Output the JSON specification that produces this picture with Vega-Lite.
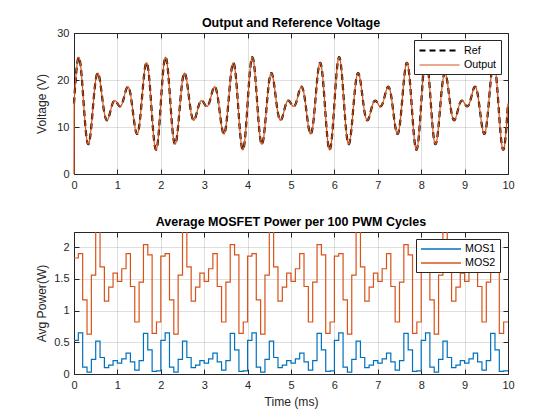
{
  "$schema": "https://vega.github.io/schema/vega-lite/v6.json",
  "background": "white",
  "padding": {"left": 35, "top": 16, "right": 10, "bottom": 8},
  "datasets": {
    "volt": [
      {"t":0,"v":15},{"t":0.05,"v":21.47},{"t":0.1,"v":24.76},{"t":0.15,"v":23.29},{"t":0.2,"v":17.94},{"t":0.25,"v":11.46},{"t":0.3,"v":7.06},{"t":0.35,"v":6.71},{"t":0.4,"v":10.24},{"t":0.45,"v":15.6},
      {"t":0.5,"v":20},{"t":0.55,"v":21.47},{"t":0.6,"v":19.76},{"t":0.65,"v":16.22},{"t":0.7,"v":12.94},{"t":0.75,"v":11.46},{"t":0.8,"v":12.06},{"t":0.85,"v":13.78},{"t":0.9,"v":15.24},{"t":0.95,"v":15.6},
      {"t":1,"v":15},{"t":1.05,"v":14.4},{"t":1.1,"v":14.76},{"t":1.15,"v":16.22},{"t":1.2,"v":17.94},{"t":1.25,"v":18.54},{"t":1.3,"v":17.06},{"t":1.35,"v":13.78},{"t":1.4,"v":10.24},{"t":1.45,"v":8.53},
      {"t":1.5,"v":10},{"t":1.55,"v":14.4},{"t":1.6,"v":19.76},{"t":1.65,"v":23.29},{"t":1.7,"v":22.94},{"t":1.75,"v":18.54},{"t":1.8,"v":12.06},{"t":1.85,"v":6.71},{"t":1.9,"v":5.24},{"t":1.95,"v":8.53},
      {"t":2,"v":15},{"t":2.05,"v":21.47},{"t":2.1,"v":24.76},{"t":2.15,"v":23.29},{"t":2.2,"v":17.94},{"t":2.25,"v":11.46},{"t":2.3,"v":7.06},{"t":2.35,"v":6.71},{"t":2.4,"v":10.24},{"t":2.45,"v":15.6},
      {"t":2.5,"v":20},{"t":2.55,"v":21.47},{"t":2.6,"v":19.76},{"t":2.65,"v":16.22},{"t":2.7,"v":12.94},{"t":2.75,"v":11.46},{"t":2.8,"v":12.06},{"t":2.85,"v":13.78},{"t":2.9,"v":15.24},{"t":2.95,"v":15.6},
      {"t":3,"v":15},{"t":3.05,"v":14.4},{"t":3.1,"v":14.76},{"t":3.15,"v":16.22},{"t":3.2,"v":17.94},{"t":3.25,"v":18.54},{"t":3.3,"v":17.06},{"t":3.35,"v":13.78},{"t":3.4,"v":10.24},{"t":3.45,"v":8.53},
      {"t":3.5,"v":10},{"t":3.55,"v":14.4},{"t":3.6,"v":19.76},{"t":3.65,"v":23.29},{"t":3.7,"v":22.94},{"t":3.75,"v":18.54},{"t":3.8,"v":12.06},{"t":3.85,"v":6.71},{"t":3.9,"v":5.24},{"t":3.95,"v":8.53},
      {"t":4,"v":15},{"t":4.05,"v":21.47},{"t":4.1,"v":24.76},{"t":4.15,"v":23.29},{"t":4.2,"v":17.94},{"t":4.25,"v":11.46},{"t":4.3,"v":7.06},{"t":4.35,"v":6.71},{"t":4.4,"v":10.24},{"t":4.45,"v":15.6},
      {"t":4.5,"v":20},{"t":4.55,"v":21.47},{"t":4.6,"v":19.76},{"t":4.65,"v":16.22},{"t":4.7,"v":12.94},{"t":4.75,"v":11.46},{"t":4.8,"v":12.06},{"t":4.85,"v":13.78},{"t":4.9,"v":15.24},{"t":4.95,"v":15.6},
      {"t":5,"v":15},{"t":5.05,"v":14.4},{"t":5.1,"v":14.76},{"t":5.15,"v":16.22},{"t":5.2,"v":17.94},{"t":5.25,"v":18.54},{"t":5.3,"v":17.06},{"t":5.35,"v":13.78},{"t":5.4,"v":10.24},{"t":5.45,"v":8.53},
      {"t":5.5,"v":10},{"t":5.55,"v":14.4},{"t":5.6,"v":19.76},{"t":5.65,"v":23.29},{"t":5.7,"v":22.94},{"t":5.75,"v":18.54},{"t":5.8,"v":12.06},{"t":5.85,"v":6.71},{"t":5.9,"v":5.24},{"t":5.95,"v":8.53},
      {"t":6,"v":15},{"t":6.05,"v":21.47},{"t":6.1,"v":24.76},{"t":6.15,"v":23.29},{"t":6.2,"v":17.94},{"t":6.25,"v":11.46},{"t":6.3,"v":7.06},{"t":6.35,"v":6.71},{"t":6.4,"v":10.24},{"t":6.45,"v":15.6},
      {"t":6.5,"v":20},{"t":6.55,"v":21.47},{"t":6.6,"v":19.76},{"t":6.65,"v":16.22},{"t":6.7,"v":12.94},{"t":6.75,"v":11.46},{"t":6.8,"v":12.06},{"t":6.85,"v":13.78},{"t":6.9,"v":15.24},{"t":6.95,"v":15.6},
      {"t":7,"v":15},{"t":7.05,"v":14.4},{"t":7.1,"v":14.76},{"t":7.15,"v":16.22},{"t":7.2,"v":17.94},{"t":7.25,"v":18.54},{"t":7.3,"v":17.06},{"t":7.35,"v":13.78},{"t":7.4,"v":10.24},{"t":7.45,"v":8.53},
      {"t":7.5,"v":10},{"t":7.55,"v":14.4},{"t":7.6,"v":19.76},{"t":7.65,"v":23.29},{"t":7.7,"v":22.94},{"t":7.75,"v":18.54},{"t":7.8,"v":12.06},{"t":7.85,"v":6.71},{"t":7.9,"v":5.24},{"t":7.95,"v":8.53},
      {"t":8,"v":15},{"t":8.05,"v":21.47},{"t":8.1,"v":24.76},{"t":8.15,"v":23.29},{"t":8.2,"v":17.94},{"t":8.25,"v":11.46},{"t":8.3,"v":7.06},{"t":8.35,"v":6.71},{"t":8.4,"v":10.24},{"t":8.45,"v":15.6},
      {"t":8.5,"v":20},{"t":8.55,"v":21.47},{"t":8.6,"v":19.76},{"t":8.65,"v":16.22},{"t":8.7,"v":12.94},{"t":8.75,"v":11.46},{"t":8.8,"v":12.06},{"t":8.85,"v":13.78},{"t":8.9,"v":15.24},{"t":8.95,"v":15.6},
      {"t":9,"v":15},{"t":9.05,"v":14.4},{"t":9.1,"v":14.76},{"t":9.15,"v":16.22},{"t":9.2,"v":17.94},{"t":9.25,"v":18.54},{"t":9.3,"v":17.06},{"t":9.35,"v":13.78},{"t":9.4,"v":10.24},{"t":9.45,"v":8.53},
      {"t":9.5,"v":10},{"t":9.55,"v":14.4},{"t":9.6,"v":19.76},{"t":9.65,"v":23.29},{"t":9.7,"v":22.94},{"t":9.75,"v":18.54},{"t":9.8,"v":12.06},{"t":9.85,"v":6.71},{"t":9.9,"v":5.24},{"t":9.95,"v":8.53},
      {"t":10,"v":15}
    ],
    "start": [{"t":0,"v":0},{"t":0.004,"v":15.4}],
    "power": [
      {"t":0,"MOS1":0.53,"MOS2":1.83},{"t":0.1,"MOS1":0.65,"MOS2":1.9},{"t":0.2,"MOS1":0.11,"MOS2":1.17},{"t":0.3,"MOS1":0.03,"MOS2":0.63},{"t":0.4,"MOS1":0.23,"MOS2":1.56},
      {"t":0.5,"MOS1":0.52,"MOS2":2.3},{"t":0.6,"MOS1":0.26,"MOS2":1.69},{"t":0.7,"MOS1":0.1,"MOS2":1.15},{"t":0.8,"MOS1":0.14,"MOS2":1.37},{"t":0.9,"MOS1":0.21,"MOS2":1.59},
      {"t":1,"MOS1":0.17,"MOS2":1.46},{"t":1.1,"MOS1":0.24,"MOS2":1.66},{"t":1.2,"MOS1":0.33,"MOS2":1.9},{"t":1.3,"MOS1":0.19,"MOS2":1.38},{"t":1.4,"MOS1":0.06,"MOS2":0.82},
      {"t":1.5,"MOS1":0.21,"MOS2":1.45},{"t":1.6,"MOS1":0.64,"MOS2":2.04},{"t":1.7,"MOS1":0.38,"MOS2":1.88},{"t":1.8,"MOS1":0.04,"MOS2":0.64},{"t":1.9,"MOS1":0.05,"MOS2":0.82},
      {"t":2,"MOS1":0.53,"MOS2":1.86},{"t":2.1,"MOS1":0.65,"MOS2":1.9},{"t":2.2,"MOS1":0.11,"MOS2":1.17},{"t":2.3,"MOS1":0.03,"MOS2":0.63},{"t":2.4,"MOS1":0.23,"MOS2":1.56},
      {"t":2.5,"MOS1":0.52,"MOS2":2.3},{"t":2.6,"MOS1":0.26,"MOS2":1.69},{"t":2.7,"MOS1":0.1,"MOS2":1.15},{"t":2.8,"MOS1":0.14,"MOS2":1.37},{"t":2.9,"MOS1":0.21,"MOS2":1.59},
      {"t":3,"MOS1":0.17,"MOS2":1.46},{"t":3.1,"MOS1":0.24,"MOS2":1.66},{"t":3.2,"MOS1":0.33,"MOS2":1.9},{"t":3.3,"MOS1":0.19,"MOS2":1.38},{"t":3.4,"MOS1":0.06,"MOS2":0.82},
      {"t":3.5,"MOS1":0.21,"MOS2":1.45},{"t":3.6,"MOS1":0.64,"MOS2":2.04},{"t":3.7,"MOS1":0.38,"MOS2":1.88},{"t":3.8,"MOS1":0.04,"MOS2":0.64},{"t":3.9,"MOS1":0.05,"MOS2":0.82},
      {"t":4,"MOS1":0.53,"MOS2":1.86},{"t":4.1,"MOS1":0.65,"MOS2":1.9},{"t":4.2,"MOS1":0.11,"MOS2":1.17},{"t":4.3,"MOS1":0.03,"MOS2":0.63},{"t":4.4,"MOS1":0.23,"MOS2":1.56},
      {"t":4.5,"MOS1":0.52,"MOS2":2.3},{"t":4.6,"MOS1":0.26,"MOS2":1.69},{"t":4.7,"MOS1":0.1,"MOS2":1.15},{"t":4.8,"MOS1":0.14,"MOS2":1.37},{"t":4.9,"MOS1":0.21,"MOS2":1.59},
      {"t":5,"MOS1":0.17,"MOS2":1.46},{"t":5.1,"MOS1":0.24,"MOS2":1.66},{"t":5.2,"MOS1":0.33,"MOS2":1.9},{"t":5.3,"MOS1":0.19,"MOS2":1.38},{"t":5.4,"MOS1":0.06,"MOS2":0.82},
      {"t":5.5,"MOS1":0.21,"MOS2":1.45},{"t":5.6,"MOS1":0.64,"MOS2":2.04},{"t":5.7,"MOS1":0.38,"MOS2":1.88},{"t":5.8,"MOS1":0.04,"MOS2":0.64},{"t":5.9,"MOS1":0.05,"MOS2":0.82},
      {"t":6,"MOS1":0.53,"MOS2":1.86},{"t":6.1,"MOS1":0.65,"MOS2":1.9},{"t":6.2,"MOS1":0.11,"MOS2":1.17},{"t":6.3,"MOS1":0.03,"MOS2":0.63},{"t":6.4,"MOS1":0.23,"MOS2":1.56},
      {"t":6.5,"MOS1":0.52,"MOS2":2.3},{"t":6.6,"MOS1":0.26,"MOS2":1.69},{"t":6.7,"MOS1":0.1,"MOS2":1.15},{"t":6.8,"MOS1":0.14,"MOS2":1.37},{"t":6.9,"MOS1":0.21,"MOS2":1.59},
      {"t":7,"MOS1":0.17,"MOS2":1.46},{"t":7.1,"MOS1":0.24,"MOS2":1.66},{"t":7.2,"MOS1":0.33,"MOS2":1.9},{"t":7.3,"MOS1":0.19,"MOS2":1.38},{"t":7.4,"MOS1":0.06,"MOS2":0.82},
      {"t":7.5,"MOS1":0.21,"MOS2":1.45},{"t":7.6,"MOS1":0.64,"MOS2":2.04},{"t":7.7,"MOS1":0.38,"MOS2":1.88},{"t":7.8,"MOS1":0.04,"MOS2":0.64},{"t":7.9,"MOS1":0.05,"MOS2":0.82},
      {"t":8,"MOS1":0.53,"MOS2":1.86},{"t":8.1,"MOS1":0.65,"MOS2":1.9},{"t":8.2,"MOS1":0.11,"MOS2":1.17},{"t":8.3,"MOS1":0.03,"MOS2":0.63},{"t":8.4,"MOS1":0.23,"MOS2":1.56},
      {"t":8.5,"MOS1":0.52,"MOS2":2.3},{"t":8.6,"MOS1":0.26,"MOS2":1.69},{"t":8.7,"MOS1":0.1,"MOS2":1.15},{"t":8.8,"MOS1":0.14,"MOS2":1.37},{"t":8.9,"MOS1":0.21,"MOS2":1.59},
      {"t":9,"MOS1":0.17,"MOS2":1.46},{"t":9.1,"MOS1":0.24,"MOS2":1.66},{"t":9.2,"MOS1":0.33,"MOS2":1.9},{"t":9.3,"MOS1":0.19,"MOS2":1.38},{"t":9.4,"MOS1":0.06,"MOS2":0.82},
      {"t":9.5,"MOS1":0.21,"MOS2":1.45},{"t":9.6,"MOS1":0.64,"MOS2":2.04},{"t":9.7,"MOS1":0.38,"MOS2":1.88},{"t":9.8,"MOS1":0.04,"MOS2":0.64},{"t":9.9,"MOS1":0.05,"MOS2":0.82},
      {"t":10,"MOS1":0.05,"MOS2":0.82}
    ]
  },
  "vconcat": [
    {
      "title": "Output and Reference Voltage",
      "width": 434,
      "height": 141,
      "resolve": {"axis": {"x": "independent", "y": "independent"}},
      "layer": [
        {
          "data": {"name": "volt"},
          "mark": {"type": "line", "interpolate": "natural"},
          "encoding": {
            "x": {"field": "t", "type": "quantitative", "scale": {"domain": [0, 10], "nice": false},
                  "axis": {"values": [0,1,2,3,4,5,6,7,8,9,10], "title": null, "grid": true}},
            "y": {"field": "v", "type": "quantitative", "scale": {"domain": [0, 30], "nice": false},
                  "axis": {"values": [0,10,20,30], "title": "Voltage (V)", "grid": true, "titlePadding": 8}},
            "color": {"datum": "Ref", "type": "nominal",
                      "scale": {"domain": ["Ref", "Output"], "range": ["#000000", "#D95319"]},
                      "legend": {"orient": "none", "legendX": 340, "legendY": 7, "title": null,
                                 "symbolType": "M-1,0H7", "symbolSize": 100, "labelOffset": 33,
                                 "padding": 4, "rowPadding": 3, "strokeColor": "#262626", "fillColor": "white",
                                 "labelFontSize": 10.7, "labelColor": "black"}},
            "strokeDash": {"datum": "Ref", "type": "nominal",
                           "scale": {"domain": ["Ref", "Output"], "range": [[6, 4], [1, 0]]}},
            "strokeWidth": {"datum": "Ref", "type": "nominal",
                            "scale": {"domain": ["Ref", "Output"], "range": [2.2, 1.2]}}
          }
        },
        {
          "data": {"name": "volt"},
          "mark": {"type": "line", "interpolate": "natural"},
          "encoding": {
            "x": {"field": "t", "type": "quantitative",
                  "axis": {"orient": "top", "values": [0,1,2,3,4,5,6,7,8,9,10], "labels": false, "grid": false, "title": null}},
            "y": {"field": "v", "type": "quantitative",
                  "axis": {"orient": "right", "values": [0,10,20,30], "labels": false, "grid": false, "title": null}},
            "color": {"datum": "Output", "type": "nominal"},
            "strokeDash": {"datum": "Output", "type": "nominal"},
            "strokeWidth": {"datum": "Output", "type": "nominal"}
          }
        },
        {
          "data": {"name": "start"},
          "mark": {"type": "line"},
          "encoding": {
            "x": {"field": "t", "type": "quantitative", "axis": null},
            "y": {"field": "v", "type": "quantitative", "axis": null},
            "color": {"datum": "Output", "type": "nominal"},
            "strokeDash": {"datum": "Output", "type": "nominal"},
            "strokeWidth": {"datum": "Output", "type": "nominal"}
          }
        }
      ]
    },
    {
      "title": {"text": "Average MOSFET Power per 100 PWM Cycles", "offset": 3},
      "width": 434,
      "height": 142,
      "data": {"name": "power"},
      "resolve": {"axis": {"x": "independent", "y": "independent"}},
      "layer": [
        {
          "mark": {"type": "line", "interpolate": "step-after", "clip": true, "strokeWidth": 1.2},
          "encoding": {
            "x": {"field": "t", "type": "quantitative", "scale": {"domain": [0, 10], "nice": false},
                  "axis": {"values": [0,1,2,3,4,5,6,7,8,9,10], "title": "Time (ms)", "grid": true, "titlePadding": 5}},
            "y": {"field": "MOS1", "type": "quantitative", "scale": {"domain": [0, 2.24], "nice": false},
                  "axis": {"values": [0,0.5,1,1.5,2], "title": "Avg Power(W)", "grid": true, "titlePadding": 5, "format": "~g"}},
            "color": {"datum": "MOS1", "type": "nominal",
                      "scale": {"domain": ["MOS1", "MOS2"], "range": ["#0072BD", "#D95319"]},
                      "legend": {"orient": "none", "legendX": 342, "legendY": 7, "title": null,
                                 "symbolType": "M-1,0H7", "symbolSize": 100, "labelOffset": 33,
                                 "symbolStrokeWidth": 1.5,
                                 "padding": 4, "rowPadding": 3, "strokeColor": "#262626", "fillColor": "white",
                                 "labelFontSize": 10.7, "labelColor": "black"}}
          }
        },
        {
          "mark": {"type": "line", "interpolate": "step-after", "clip": true, "strokeWidth": 1.2},
          "encoding": {
            "x": {"field": "t", "type": "quantitative",
                  "axis": {"orient": "top", "values": [0,1,2,3,4,5,6,7,8,9,10], "labels": false, "grid": false, "title": null}},
            "y": {"field": "MOS2", "type": "quantitative",
                  "axis": {"orient": "right", "values": [0,0.5,1,1.5,2], "labels": false, "grid": false, "title": null}},
            "color": {"datum": "MOS2", "type": "nominal"}
          }
        }
      ]
    }
  ],
  "spacing": 58,
  "bounds": "flush",
  "resolve": {"scale": {"color": "independent", "strokeDash": "independent", "strokeWidth": "independent"},
              "legend": {"color": "independent", "strokeDash": "independent", "strokeWidth": "independent"}},
  "config": {
    "font": "Liberation Sans",
    "view": {"stroke": "#262626", "strokeWidth": 1},
    "axis": {
      "labelFont": "Liberation Sans", "labelFontSize": 11, "labelColor": "#262626",
      "titleFont": "Liberation Sans", "titleFontSize": 12.1, "titleFontWeight": "normal", "titleColor": "#262626",
      "gridColor": "#262626", "gridOpacity": 0.15, "domain": false,
      "tickColor": "#262626", "tickSize": -5, "labelPadding": 10, "labelFlush": false
    },
    "title": {"font": "Liberation Sans", "fontSize": 12.5, "fontWeight": "bold", "color": "#000000",
              "offset": -2, "frame": "group", "baseline": "alphabetic"}
  }
}
